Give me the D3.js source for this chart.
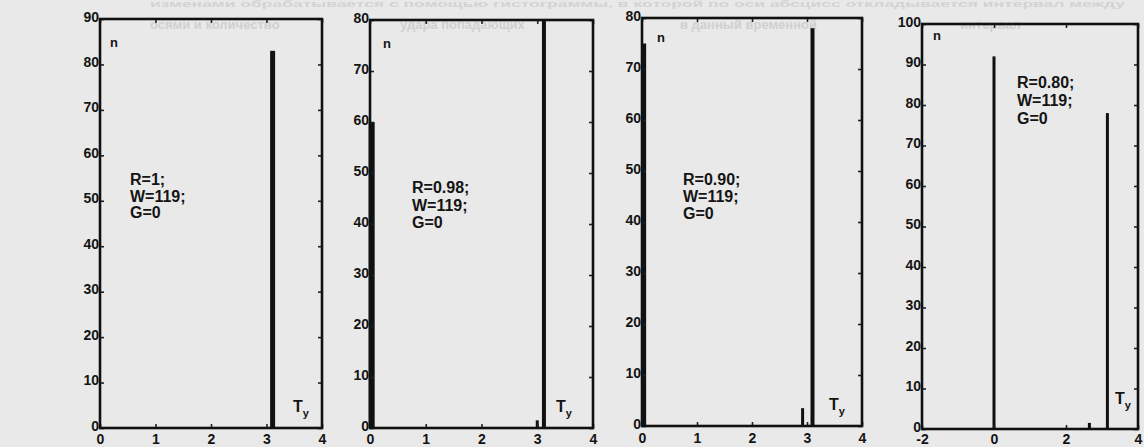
<!DOCTYPE html>
<html><head><meta charset="utf-8">
<script src="https://cdn.jsdelivr.net/npm/d3@7"></script>
<style>
html,body{margin:0;padding:0;background:#e9e9e9;}
svg{display:block;}
text{font-family:"Liberation Sans",Arial,sans-serif;fill:#141414;}
</style></head>
<body>
<svg id="c" width="1144" height="447"></svg>
<script>
// ---- data ----
const rLabels = ["R=1;", "R=0.98;", "R=0.90;", "R=0.80;"];
const wLabel = "W=119;";
const gLabel = "G=0";

const p1T = [3.11];
const p1N = [83];
const p2T = [0.03, 3.0, 3.12];
const p2N = [60, 1.5, 80];
const p3T = [0.03, 2.92, 3.1];
const p3N = [75, 3.5, 78];
const p4T = [0.0, 2.65, 3.15];
const p4N = [92, 1.5, 78];

const xTicksA = [0, 1, 2, 3, 4];
const xTicksB = [-2, 0, 2, 4];
const yTicks90 = [0, 10, 20, 30, 40, 50, 60, 70, 80, 90];
const yTicks80 = [0, 10, 20, 30, 40, 50, 60, 70, 80];
const yTicks100 = [0, 10, 20, 30, 40, 50, 60, 70, 80, 90, 100];

const ghostLine1 = "изменами обрабатывается с помощью гистограммы, в которой по оси абсцисс откладывается интервал между";
const ghostLine2 = ["осями и количество", "удара попадающих", "в данный временной", "интервал"];

// ---- layout ----
const panels = [
  {t:p1T, n:p1N, bw:[5], L:100, R:322, T:19, B:428, xd:[0,4], yd:[0,90], xt:xTicksA, yt:yTicks90, xpad:6,
   lab:[130,185,16.5], nPos:[110,47], tyPos:[293,412]},
  {t:p2T, n:p2N, bw:[6,3,4], L:370, R:593, T:20, B:428, xd:[0,4], yd:[0,80], xt:xTicksA, yt:yTicks80, xpad:6,
   lab:[412,193,17.5], nPos:[383,48], tyPos:[556,412]},
  {t:p3T, n:p3N, bw:[5,3,4], L:642, R:862, T:18, B:426, xd:[0,4], yd:[0,80], xt:xTicksA, yt:yTicks80, xpad:7,
   lab:[683,185,17], nPos:[657,42], tyPos:[829,410]},
  {t:p4T, n:p4N, bw:[3,3,3], L:922, R:1138, T:24, B:429, xd:[-2,4], yd:[0,100], xt:xTicksB, yt:yTicks100, xpad:5,
   lab:[1017,88,18], nPos:[933,40], tyPos:[1115,404]}
];

const svg = d3.select("#c");

// faint bleed-through text from the scanned page
const ghost = svg.append("g").style("font-weight","bold");
ghost.append("text").attr("x",150).attr("y",7).attr("textLength",975).attr("lengthAdjust","spacingAndGlyphs")
  .style("font-size","9px").style("fill","#d3d3d3").text(ghostLine1);
const ghostX = [150, 400, 680, 960];
ghostLine2.forEach((s, k) => {
  ghost.append("text").attr("x",ghostX[k]).attr("y",29).style("font-size","13px")
    .style("fill","#d0d0d0").text(s);
});

const fmt = d => String(d);

panels.forEach((p, i) => {
  const x = d3.scaleLinear().domain(p.xd).range([p.L, p.R]);
  const y = d3.scaleLinear().domain(p.yd).range([p.B, p.T]);
  const g = svg.append("g");

  // bars
  g.selectAll("rect.bar").data(p.t.map((v, k) => ({t:v, n:p.n[k], w:p.bw[k]})))
    .enter().append("rect").attr("class","bar")
    .attr("x", d => x(d.t) - d.w/2)
    .attr("width", d => d.w)
    .attr("y", d => y(Math.min(d.n, p.yd[1])))
    .attr("height", d => y(0) - y(Math.min(d.n, p.yd[1])))
    .attr("fill", "#111");

  // axes (MATLAB-like inward ticks on all four sides)
  const left = d3.axisLeft(y).tickValues(p.yt).tickFormat(fmt).tickSizeInner(-4).tickSizeOuter(0).tickPadding(1);
  const bottom = d3.axisBottom(x).tickValues(p.xt).tickFormat(fmt).tickSizeInner(-4).tickSizeOuter(0).tickPadding(p.xpad);
  const right = d3.axisRight(y).tickValues(p.yt).tickSizeInner(-4).tickSizeOuter(0).tickFormat("");
  const top = d3.axisTop(x).tickValues(p.xt).tickSizeInner(-4).tickSizeOuter(0).tickFormat("");

  const styleAxis = sel => {
    sel.select(".domain").remove();
    sel.selectAll(".tick line").attr("stroke","#222").attr("stroke-width",1.6);
    sel.selectAll(".tick text").style("font-size","14px").style("font-weight","bold")
      .style("font-family","'Liberation Sans',Arial,sans-serif").attr("fill","#141414");
  };
  const gl = g.append("g").attr("transform",`translate(${p.L},0)`).call(left).call(styleAxis);
  gl.selectAll(".tick text").attr("dy","0.15em");
  g.append("g").attr("transform",`translate(0,${p.B})`).call(bottom).call(styleAxis);
  g.append("g").attr("transform",`translate(${p.R},0)`).call(right).call(styleAxis);
  g.append("g").attr("transform",`translate(0,${p.T})`).call(top).call(styleAxis);

  // frame
  g.append("rect").attr("x",p.L).attr("y",p.T).attr("width",p.R-p.L).attr("height",p.B-p.T)
    .attr("fill","none").attr("stroke","#111").attr("stroke-width",2.6);

  // axis captions
  g.append("text").attr("x",p.nPos[0]).attr("y",p.nPos[1]).style("font-size","13px").style("font-weight","bold").text("n");
  const ty = g.append("text").attr("x",p.tyPos[0]).attr("y",p.tyPos[1]).style("font-size","16px").style("font-weight","bold");
  ty.append("tspan").text("T");
  ty.append("tspan").attr("dy",5).style("font-size","11px").text("y");

  // annotation
  const a = g.append("text").style("font-size","16px").style("font-weight","bold");
  [rLabels[i], wLabel, gLabel].forEach((s, k) => {
    a.append("tspan").attr("x",p.lab[0]).attr("y",p.lab[1] + k*p.lab[2]).text(s);
  });
});
</script>
</body></html>
